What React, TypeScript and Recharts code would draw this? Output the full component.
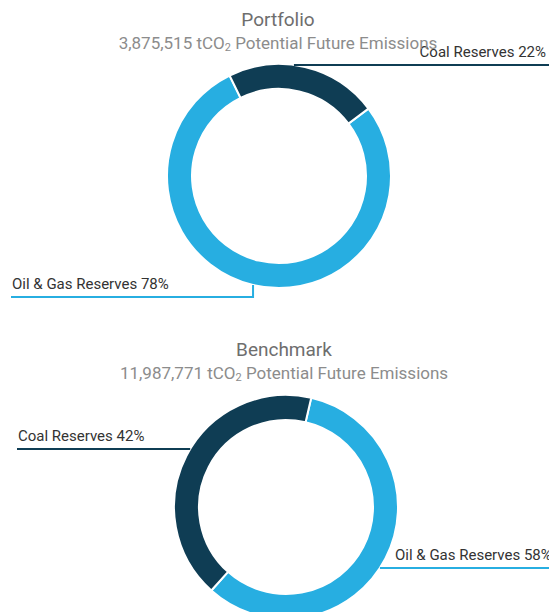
import React from "react";
import { PieChart, Pie, Cell } from "recharts";

const categories = ["Oil & Gas Reserves", "Coal Reserves"];
const portfolioValues = [78, 22];
const benchmarkValues = [58, 42];
const portfolioTitle = "Portfolio";
const benchmarkTitle = "Benchmark";
const portfolioTotal = "3,875,515";
const benchmarkTotal = "11,987,771";
const subtitleSuffix = "Potential Future Emissions";

const COLORS = ["#27aee1", "#0f3d54"];
const FONT = "Roboto, 'Noto Sans', sans-serif";

const portfolioData = categories.map((name, i) => ({ name, value: portfolioValues[i] }));
const benchmarkData = categories.map((name, i) => ({ name, value: benchmarkValues[i] }));

const RAD = Math.PI / 180;

type Placement = { lineY: number; edgeX: number; textX: number; anchor: "start" | "end" };

// label layout per chart, indexed like categories
const portfolioLabels: Placement[] = [
  { lineY: 297, edgeX: 11, textX: 12, anchor: "start" },
  { lineY: 65, edgeX: 549, textX: 546, anchor: "end" },
];
const benchmarkLabels: Placement[] = [
  { lineY: 568, edgeX: 549, textX: 395, anchor: "start" },
  { lineY: 449, edgeX: 17, textX: 18, anchor: "start" },
];

const makeLabel = (layout: Placement[]) => (props: any) => {
  const { cx, cy, midAngle, outerRadius, index, name, value } = props;
  const p = layout[index];
  const ax = cx + outerRadius * Math.cos(-midAngle * RAD);
  const ay = cy + outerRadius * Math.sin(-midAngle * RAD);
  const dy = p.lineY - cy;
  let pts: string;
  if (Math.abs(dy) < outerRadius) {
    const dx = Math.sqrt(outerRadius * outerRadius - dy * dy);
    const sx = ax >= cx ? cx + dx : cx - dx;
    pts = `${sx},${p.lineY} ${p.edgeX},${p.lineY}`;
  } else {
    pts = `${ax},${ay} ${ax},${p.lineY} ${p.edgeX},${p.lineY}`;
  }
  return (
    <g key={`lbl-${index}`}>
      <polyline points={pts} fill="none" stroke={COLORS[index]} strokeWidth={2} />
      <text
        x={p.textX}
        y={p.lineY - 8}
        textAnchor={p.anchor}
        fill="#333333"
        fontSize={15}
        fontFamily={FONT}
      >
        {`${name} ${value}%`}
      </text>
    </g>
  );
};

const Title = ({ top, cx, title, total }: { top: number; cx: number; title: string; total: string }) => (
  <div
    style={{
      position: "absolute",
      left: cx - 250,
      width: 500,
      top,
      textAlign: "center",
      fontFamily: FONT,
      pointerEvents: "none",
    }}
  >
    <div style={{ fontSize: 19, color: "#6e6e6e", lineHeight: "22px" }}>{title}</div>
    <div style={{ fontSize: 17, color: "#8c8c8c", lineHeight: "24px" }}>
      {total} tCO<sub style={{ fontSize: 11, verticalAlign: "-2px" }}>2</sub> {subtitleSuffix}
    </div>
  </div>
);

export default function App() {
  return (
    <div style={{ position: "absolute", left: 0, top: 0, width: 549, height: 612, background: "#fff", overflow: "hidden" }}>
      <PieChart width={549} height={612} margin={{ top: 0, right: 0, bottom: 0, left: 0 }}>
        <Pie
          data={portfolioData}
          dataKey="value"
          nameKey="name"
          cx={279}
          cy={176}
          innerRadius={87}
          outerRadius={112}
          startAngle={37}
          endAngle={-323}
          stroke="#ffffff"
          strokeWidth={2}
          label={makeLabel(portfolioLabels)}
          labelLine={false}
          isAnimationActive={false}
        >
          {portfolioData.map((d, i) => (
            <Cell key={d.name} fill={COLORS[i]} />
          ))}
        </Pie>
        <Pie
          data={benchmarkData}
          dataKey="value"
          nameKey="name"
          cx={286}
          cy={507}
          innerRadius={87}
          outerRadius={112}
          startAngle={77}
          endAngle={-283}
          stroke="#ffffff"
          strokeWidth={2}
          label={makeLabel(benchmarkLabels)}
          labelLine={false}
          isAnimationActive={false}
        >
          {benchmarkData.map((d, i) => (
            <Cell key={d.name} fill={COLORS[i]} />
          ))}
        </Pie>
      </PieChart>
      <Title top={9} cx={278} title={portfolioTitle} total={portfolioTotal} />
      <Title top={339} cx={284} title={benchmarkTitle} total={benchmarkTotal} />
    </div>
  );
}
